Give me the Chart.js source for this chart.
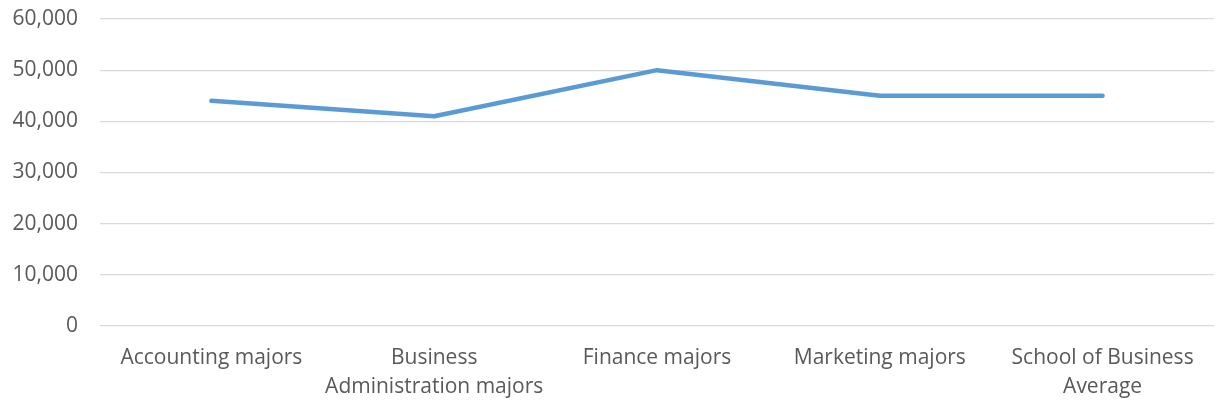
<!DOCTYPE html>
<html>
<head>
<meta charset="utf-8">
<script src="https://cdn.jsdelivr.net/npm/chart.js@4"></script>
<style>
  html, body { margin: 0; padding: 0; background: #fff; }
  #wrap { width: 1217px; height: 411px; }
</style>
</head>
<body>
<div id="wrap"><canvas id="salaryChart" width="1217" height="411"></canvas></div>
<script>
// Starting salary by major
const majors = [
  "Accounting majors",
  ["Business", "Administration majors"],
  "Finance majors",
  "Marketing majors",
  ["School of Business", "Average"]
];
const salaries = [44000, 41000, 50000, 45000, 45000];

// y axis range
const yMin = 0;
const yMax = 60000;
const yStep = 10000;

const textColor = "#595959";
const gridColor = "#d9d9d9";

window.onload = function () {
  new Chart(document.getElementById("salaryChart"), {
    type: "line",
    data: {
      labels: majors,
      datasets: [
        {
          label: "Salary",
          data: salaries,
          borderColor: "#5b9bd5",
          borderWidth: 4.5,
          borderCapStyle: "round",
          borderJoinStyle: "round",
          pointRadius: 0,
          tension: 0,
          fill: false
        }
      ]
    },
    options: {
      responsive: false,
      animation: false,
      layout: { padding: { top: 19, right: 3, left: 0, bottom: 0 } },
      plugins: {
        legend: { display: false },
        tooltip: { enabled: false }
      },
      scales: {
        x: {
          offset: true,
          grid: { display: false, drawTicks: false },
          border: { display: false },
          ticks: {
            color: textColor,
            font: { family: "'Open Sans'", size: 21, lineHeight: 1.38 },
            padding: 18,
            maxRotation: 0,
            autoSkip: false
          },
          afterFit: function (scale) {
            scale.height = 85;
            scale.paddingLeft = 0;
            scale.paddingRight = 0;
          }
        },
        y: {
          min: yMin,
          max: yMax,
          grid: { color: gridColor, lineWidth: 1.3, drawTicks: false },
          border: { display: false },
          ticks: {
            stepSize: yStep,
            color: textColor,
            font: { family: "'Open Sans'", size: 21 },
            padding: 22,
            callback: function (v) { return v.toLocaleString("en-US"); }
          },
          afterFit: function (scale) {
            scale.width = 100;
            scale.paddingTop = 0;
            scale.paddingBottom = 0;
          }
        }
      }
    }
  });
};
</script>
</body>
</html>
